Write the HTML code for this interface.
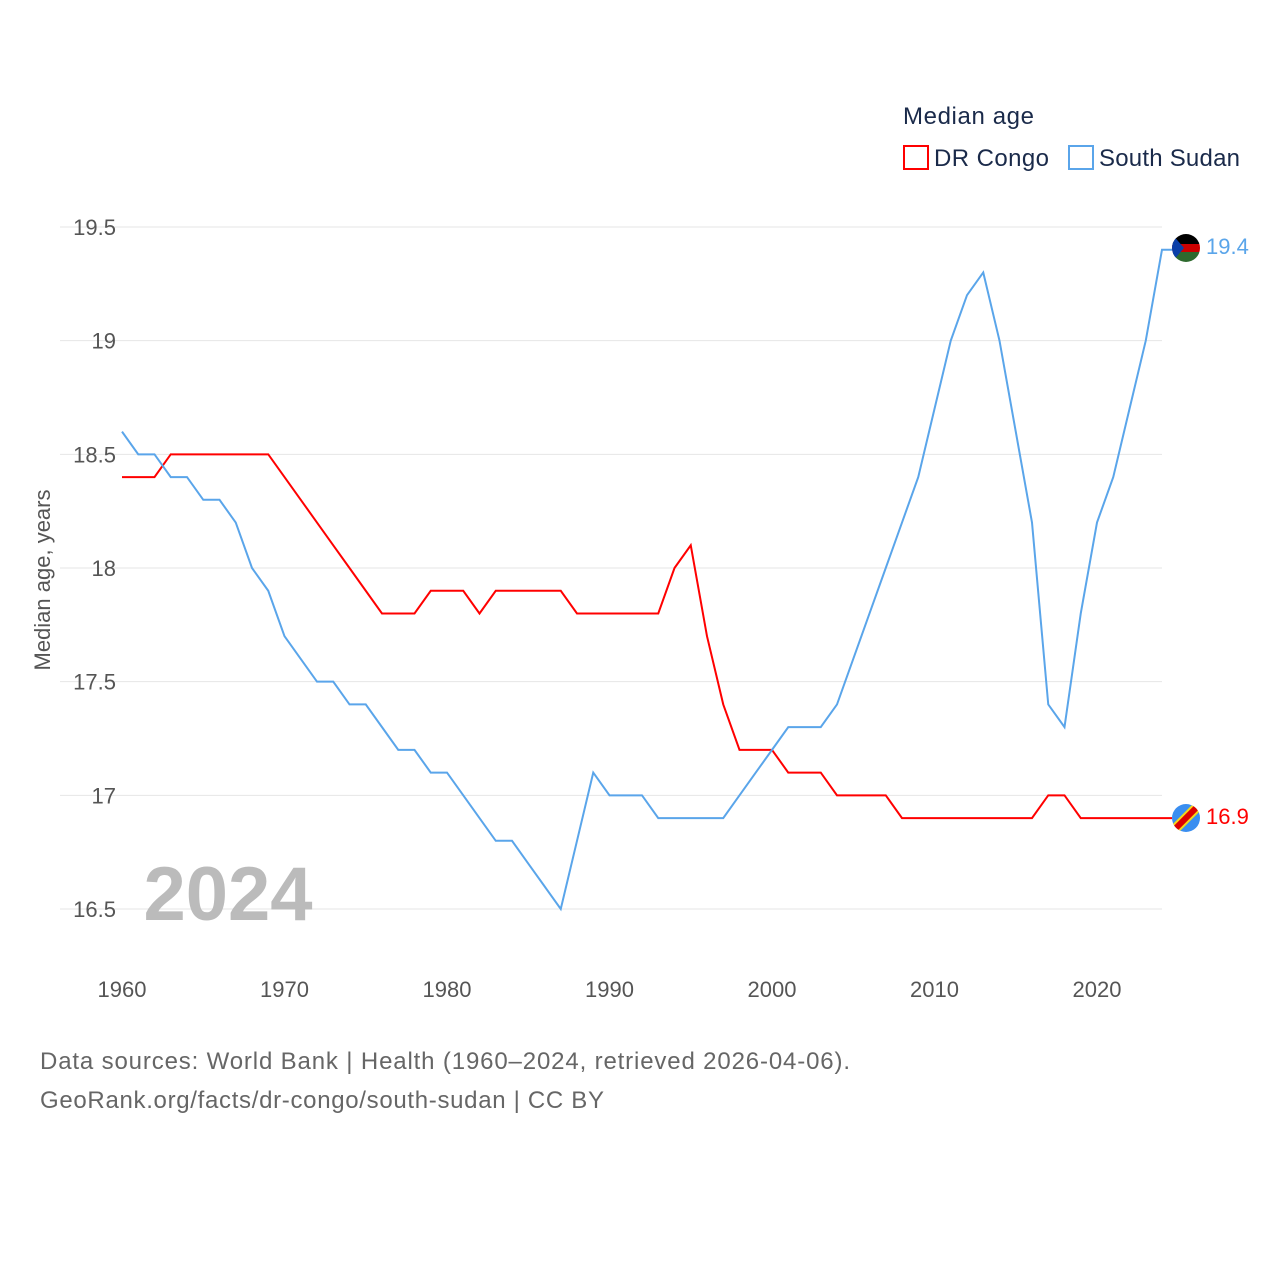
<!DOCTYPE html>
<html><head><meta charset="utf-8"><style>
body{margin:0;background:#fff;font-family:"Liberation Sans",sans-serif}
</style></head><body>
<svg width="1280" height="1280" xmlns="http://www.w3.org/2000/svg" style="font-family:'Liberation Sans',sans-serif">
<g id="grid"></g>
<g id="yt" font-size="22" fill="#555" text-anchor="end"></g>
<g id="xt" font-size="22" fill="#555" text-anchor="middle"></g>
<text x="228" y="920" font-size="76" font-weight="bold" fill="#bbb" text-anchor="middle">2024</text>
<text transform="translate(50,580) rotate(-90)" font-size="22" fill="#555" text-anchor="middle">Median age, years</text>
<g id="lines"></g>
<text x="903" y="124" font-size="24" fill="#1a2a4a" textLength="131">Median age</text>
<g><rect x="904" y="146" width="24" height="23" fill="none" stroke="#f00" stroke-width="2"/><text x="934" y="166" font-size="24" fill="#1a2a4a" textLength="115">DR Congo</text></g>
<g><rect x="1069" y="146" width="24" height="23" fill="none" stroke="#5aa5ea" stroke-width="2"/><text x="1099" y="166" font-size="24" fill="#1a2a4a" textLength="141">South Sudan</text></g>
<g><clipPath id="c1"><circle cx="1186" cy="248" r="14"/></clipPath><g clip-path="url(#c1)"><rect x="1172" y="234" width="28" height="10" fill="#000"/><rect x="1172" y="244" width="28" height="8" fill="#c00"/><rect x="1172" y="252" width="28" height="10" fill="#2e6a2e"/><polygon points="1172,234 1184,248 1172,262" fill="#0a3fa8"/></g></g>
<g><clipPath id="c2"><circle cx="1186" cy="818" r="14"/></clipPath><g clip-path="url(#c2)"><rect x="1172" y="804" width="28" height="28" fill="#3a8ef0"/><line x1="1172" y1="832" x2="1200" y2="804" stroke="#f7d618" stroke-width="10"/><line x1="1172" y1="832" x2="1200" y2="804" stroke="#d00" stroke-width="6"/></g></g>
<text x="1206" y="254" font-size="22" fill="#5aa5ea">19.4</text>
<text x="1206" y="824" font-size="22" fill="#f00">16.9</text>
<text x="40" y="1069" font-size="24" fill="#666" textLength="810">Data sources: World Bank | Health (1960–2024, retrieved 2026-04-06).</text>
<text x="40" y="1108" font-size="24" fill="#666" textLength="564">GeoRank.org/facts/dr-congo/south-sudan | CC BY</text>
</svg>
<script>
const years=[];for(let y=1960;y<=2024;y++)years.push(y);
const drCongo=[18.4,18.4,18.4,18.5,18.5,18.5,18.5,18.5,18.5,18.5,18.4,18.3,18.2,18.1,18.0,17.9,17.8,17.8,17.8,17.9,17.9,17.9,17.8,17.9,17.9,17.9,17.9,17.9,17.8,17.8,17.8,17.8,17.8,17.8,18.0,18.1,17.7,17.4,17.2,17.2,17.2,17.1,17.1,17.1,17.0,17.0,17.0,17.0,16.9,16.9,16.9,16.9,16.9,16.9,16.9,16.9,16.9,17.0,17.0,16.9,16.9,16.9,16.9,16.9,16.9];
const southSudan=[18.6,18.5,18.5,18.4,18.4,18.3,18.3,18.2,18.0,17.9,17.7,17.6,17.5,17.5,17.4,17.4,17.3,17.2,17.2,17.1,17.1,17.0,16.9,16.8,16.8,16.7,16.6,16.5,16.8,17.1,17.0,17.0,17.0,16.9,16.9,16.9,16.9,16.9,17.0,17.1,17.2,17.3,17.3,17.3,17.4,17.6,17.8,18.0,18.2,18.4,18.7,19.0,19.2,19.3,19.0,18.6,18.2,17.4,17.3,17.8,18.2,18.4,18.7,19.0,19.4];
const yTicks=[16.5,17,17.5,18,18.5,19,19.5];
const xTicks=[1960,1970,1980,1990,2000,2010,2020];
const NS='http://www.w3.org/2000/svg';
const X=y=>122+(y-1960)*16.25, Y=v=>909-(v-16.5)*227.33;
function mk(t,a,p){const e=document.createElementNS(NS,t);for(const k in a)e.setAttribute(k,a[k]);p.appendChild(e);return e;}
const g=document.getElementById('grid'),yt=document.getElementById('yt'),xt=document.getElementById('xt'),L=document.getElementById('lines');
yTicks.forEach(v=>{const l=mk('line',{x1:60,x2:1162,y1:Y(v),y2:Y(v),stroke:'#e6e6e6','stroke-width':1},g);


const t=mk('text',{x:116,y:Y(v)+8},yt);t.textContent=String(v);

});
xTicks.forEach(v=>{const t=mk('text',{x:X(v),y:997},xt);t.textContent=v;

});
function line(d,c,n){const pts=d.map((v,i)=>X(years[i])+','+Y(v));pts.push((X(2024)+10)+','+Y(d[d.length-1]));
const p=mk('polyline',{points:pts.join(' '),fill:'none',stroke:c,'stroke-width':2},L);

}
line(drCongo,'#f00','line-dr-congo');
line(southSudan,'#5aa5ea','line-south-sudan');
</script>
</body></html>
